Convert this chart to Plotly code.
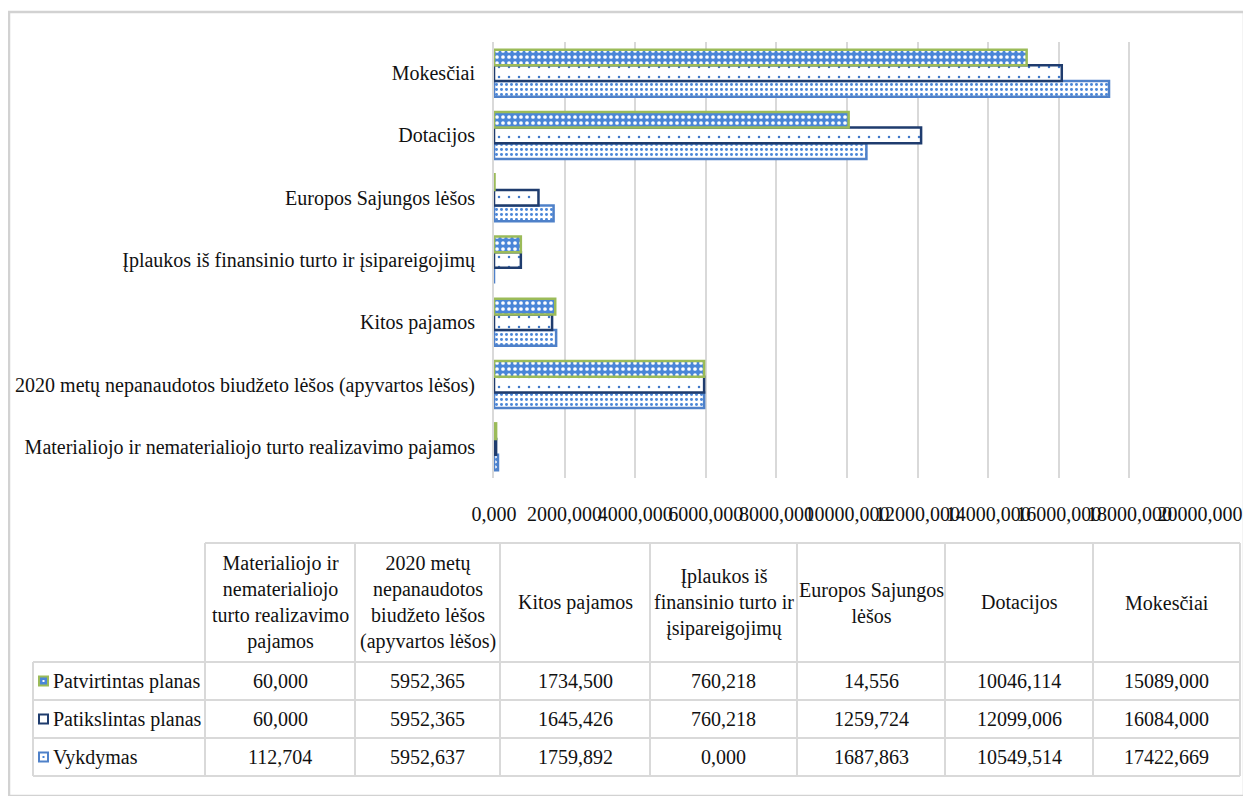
import plotly.graph_objects as go

# ---------------- data ----------------
categories = [
    "Materialiojo ir nematerialiojo turto realizavimo pajamos",
    "2020 metų nepanaudotos biudžeto lėšos (apyvartos lėšos)",
    "Kitos pajamos",
    "Įplaukos iš finansinio turto ir įsipareigojimų",
    "Europos Sajungos lėšos",
    "Dotacijos",
    "Mokesčiai",
]
table_headers = [
    "Materialiojo ir<br>nematerialiojo<br>turto realizavimo<br>pajamos",
    "2020 metų<br>nepanaudotos<br>biudžeto lėšos<br>(apyvartos lėšos)",
    "Kitos pajamos",
    "Įplaukos iš<br>finansinio turto ir<br>įsipareigojimų",
    "Europos Sajungos<br>lėšos",
    "Dotacijos",
    "Mokesčiai",
]
series_names = ["Patvirtintas planas", "Patikslintas planas", "Vykdymas"]
patvirtintas = [60.000, 5952.365, 1734.500, 760.218, 14.556, 10046.114, 15089.000]
patikslintas = [60.000, 5952.365, 1645.426, 760.218, 1259.724, 12099.006, 16084.000]
vykdymas = [112.704, 5952.637, 1759.892, 0.000, 1687.863, 10549.514, 17422.669]
tick_vals = [0, 2000, 4000, 6000, 8000, 10000, 12000, 14000, 16000, 18000, 20000]
tick_text = ["0,000", "2000,000", "4000,000", "6000,000", "8000,000", "10000,000",
             "12000,000", "14000,000", "16000,000", "18000,000", "20000,000"]

# ---------------- helpers ----------------
OFF = 8                      # default page body margin
W, H = 1251 - 2 * OFF, 804 - 2 * OFF
def px(x):
    return (x - OFF) / W
def py(y):
    return 1 - (y - OFF) / H

FONT = "Liberation Serif"
GRID = "#d9d9d9"
TXT = "#111111"

styles = {
    "Patvirtintas planas": dict(bg="#4a86d8", fg="#ffffff", size=6, sol=0.3, line="#9bbb59"),
    "Patikslintas planas": dict(bg="#ffffff", fg="#3f78c8", size=10, sol=0.05, line="#1f3c6e"),
    "Vykdymas": dict(bg="#ffffff", fg="#4a86d8", size=5, sol=0.28, line="#4f81c9"),
}
values = {"Patvirtintas planas": patvirtintas, "Patikslintas planas": patikslintas, "Vykdymas": vykdymas}

fig = go.Figure()
# plotly draws the first trace at the bottom of each group
for name in reversed(series_names):
    s = styles[name]
    fig.add_trace(go.Bar(
        y=categories, x=values[name], orientation="h", name=name, showlegend=False,
        marker=dict(
            color=s["bg"],
            line=dict(color=s["line"], width=2.5),
            pattern=dict(shape=".", fgcolor=s["fg"], bgcolor=s["bg"], size=s["size"],
                         solidity=s["sol"], fillmode="replace"),
        ),
        hoverinfo="x+y+name",
    ))

shapes = []
annotations = []

# outer frame with soft shadow
for i, c in enumerate(["#e6e6e6", "#dcdcdc", "#d0d0d0"]):
    o = 3 - i
    shapes.append(dict(type="line", xref="paper", yref="paper", x0=px(10), x1=px(1246),
                       y0=py(797 + o), y1=py(797 + o), line=dict(color=c, width=2)))
shapes.append(dict(type="rect", xref="paper", yref="paper", x0=px(9), x1=px(1244),
                   y0=py(796), y1=py(12), line=dict(color="#d2d2d2", width=2.5)))

# table grid
col_x = [205, 355, 500, 650, 797, 945, 1093, 1240]
row_y = [543, 662, 700, 738, 776]
left_x = 33
def hline(y, x0, x1):
    shapes.append(dict(type="line", xref="paper", yref="paper", x0=px(x0), x1=px(x1),
                       y0=py(y), y1=py(y), line=dict(color=GRID, width=2)))
def vline(x, y0, y1):
    shapes.append(dict(type="line", xref="paper", yref="paper", x0=px(x), x1=px(x),
                       y0=py(y0), y1=py(y1), line=dict(color=GRID, width=2)))
hline(row_y[0], col_x[0], col_x[-1])
for y in row_y[1:]:
    hline(y, left_x, col_x[-1])
vline(left_x, row_y[1], row_y[-1])
for x in col_x:
    vline(x, row_y[0], row_y[-1])

# header texts
for j, htxt in enumerate(table_headers):
    cx = (col_x[j] + col_x[j + 1]) / 2
    cy = (row_y[0] + row_y[1]) / 2
    annotations.append(dict(xref="paper", yref="paper", x=px(cx), y=py(cy), text=htxt,
                            showarrow=False, xanchor="center", yanchor="middle", align="center",
                            font=dict(family=FONT, size=20, color=TXT)))

# data rows
for r, name in enumerate(series_names):
    cy = (row_y[r + 1] + row_y[r + 2]) / 2
    vals = values[name]
    for j, v in enumerate(vals):
        cx = (col_x[j] + col_x[j + 1]) / 2
        annotations.append(dict(xref="paper", yref="paper", x=px(cx), y=py(cy),
                                text=f"{v:.3f}".replace(".", ","), showarrow=False,
                                xanchor="center", yanchor="middle",
                                font=dict(family=FONT, size=20, color=TXT)))
    annotations.append(dict(xref="paper", yref="paper", x=px(51), y=py(cy), text=name,
                            showarrow=False, xanchor="left", yanchor="middle",
                            font=dict(family=FONT, size=20, color=TXT)))
    # legend key
    s = styles[name]
    shapes.append(dict(type="rect", xref="paper", yref="paper", x0=px(39), x1=px(48),
                       y0=py(cy + 4.5), y1=py(cy - 4.5),
                       fillcolor=s["bg"] if name == "Patvirtintas planas" else "#ffffff",
                       line=dict(color=s["line"], width=2)))
    if name != "Patikslintas planas":
        shapes.append(dict(type="rect", xref="paper", yref="paper", x0=px(42.5), x1=px(44.5),
                           y0=py(cy + 1), y1=py(cy - 1),
                           fillcolor="#ffffff" if name == "Patvirtintas planas" else s["fg"],
                           line=dict(width=0)))

fig.update_layout(
    width=W, height=H,
    margin=dict(l=0, r=0, t=0, b=0),
    paper_bgcolor="white", plot_bgcolor="white",
    font=dict(family=FONT, size=20, color=TXT),
    barmode="group", bargap=0.245, bargroupgap=0,
    showlegend=False,
    xaxis=dict(domain=[px(494), px(1200)], range=[0, 20000], tickvals=tick_vals,
               ticktext=tick_text, tickangle=0, showgrid=True, gridcolor=GRID, gridwidth=2,
               zeroline=False, showline=False, ticks="outside", ticklen=18,
               tickcolor="rgba(0,0,0,0)", automargin=False,
               tickfont=dict(family=FONT, size=20, color=TXT)),
    yaxis=dict(domain=[py(478), py(42)], type="category", categoryorder="array",
               categoryarray=categories, showgrid=False, showline=True, linecolor=GRID,
               linewidth=2, ticks="outside", ticklen=13, tickcolor="rgba(0,0,0,0)",
               automargin=False, tickfont=dict(family=FONT, size=20, color=TXT)),
    shapes=shapes,
    annotations=annotations,
)

fig.write_html("out.html")
